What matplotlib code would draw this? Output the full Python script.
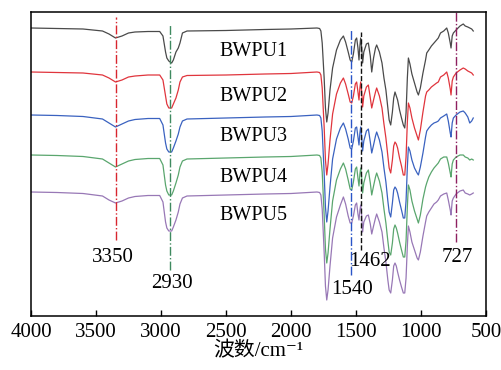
import matplotlib
matplotlib.use("Agg")
import matplotlib.pyplot as plt
import numpy as np

plt.rcParams['font.family'] = ['Liberation Serif', 'Noto Sans CJK SC', 'DejaVu Serif']

# wavenumber keypoints (cm-1)
wavenumber = [4000, 3800, 3600, 3450, 3400, 3350, 3300, 3250, 3200, 3100,
              3010, 2985, 2965, 2955, 2940, 2930, 2918, 2905, 2885, 2867,
              2854, 2835, 2800, 2500, 2200, 2000, 1800, 1780, 1770, 1760,
              1745, 1735, 1725, 1715, 1700, 1680, 1650, 1620, 1597, 1580,
              1560, 1545, 1533, 1520, 1505, 1495, 1485, 1477, 1470, 1464,
              1456, 1449, 1440, 1420, 1405, 1390, 1379, 1365, 1350, 1341,
              1320, 1300, 1285, 1270, 1255, 1245, 1233, 1220, 1210, 1200,
              1190, 1180, 1165, 1150, 1136, 1125, 1115, 1105, 1097, 1085,
              1070, 1050, 1030, 1020, 1005, 985, 965, 956, 940, 920,
              900, 880, 867, 850, 825, 802, 790, 775, 769, 760,
              751, 730, 700, 675, 660, 640, 625, 610, 598]

names = ['BWPU1', 'BWPU2', 'BWPU3', 'BWPU4', 'BWPU5']
colors = ['#4a4a4a', '#e0353d', '#3a62c0', '#5aa66e', '#9878b6']
# stacked baseline level of each trace (a.u.)
baselines = [288, 244, 201, 161, 124]

# absorption depth below each baseline (a.u.)
depth_bwpu1 = [0, 0.5, 1, 3, 6, 10, 8, 5, 4, 3.5,
               3.5, 8, 24, 30, 33, 34, 35, 32, 24, 20,
               15, 5, 3, 2.5, 1.5, 1, 0, 0.5, 3, 15,
               50, 80, 94, 85, 62, 40, 22, 12, 8, 14,
               24, 32, 34, 26, 12, 10, 20, 32, 18, 10,
               20, 35, 24, 16, 15, 28, 44, 30, 20, 17,
               24, 35, 50, 62, 80, 92, 97, 84, 70, 64,
               68, 72, 82, 90, 97, 100, 85, 50, 30, 36,
               46, 55, 64, 67, 60, 45, 32, 25, 22, 18,
               15, 12, 10, 5, 3, 0, 5, 15, 20, 8,
               5, 2, -2, -4, -2, -1, 0, 1, 3]
depth_bwpu2 = [0, 0.5, 1, 3, 6, 10, 8, 5, 4, 3,
               3, 8, 24, 32, 36, 36, 36, 32, 26, 18,
               10, 5, 3.5, 3, 2, 1.5, 0, 0.5, 3, 16,
               55, 88, 103, 92, 68, 42, 22, 11, 6, 12,
               22, 30, 31, 24, 12, 10, 20, 28, 16, 10,
               20, 35, 24, 15, 13, 26, 36, 28, 20, 16,
               24, 36, 52, 66, 84, 96, 101, 88, 74, 70,
               72, 76, 86, 94, 103, 103, 85, 50, 31, 36,
               46, 56, 64, 68, 58, 40, 24, 20, 18, 15,
               13, 11, 10, 5, 3, 0, 6, 17, 23, 9,
               5, 1, -2, -4, -3, -1, 0, 1, 3]
depth_bwpu3 = [0, 0.5, 1.5, 4, 8, 12, 9, 6, 4.5, 3.5,
               3.5, 10, 28, 34, 37, 37, 37, 33, 26, 19,
               12, 6, 4, 3, 2, 1.5, 0, 0.5, 3, 16,
               58, 92, 107, 96, 72, 44, 24, 13, 8, 14,
               24, 33, 34, 26, 13, 12, 22, 30, 18, 12,
               22, 36, 26, 16, 14, 27, 38, 30, 21, 17,
               25, 37, 53, 67, 86, 97, 102, 88, 75, 72,
               74, 78, 87, 95, 103, 103, 86, 52, 32, 36,
               45, 53, 58, 60, 52, 38, 22, 16, 13, 10,
               8, 7, 6, 3, 1, -1, 6, 18, 22, 8,
               3, 0, -3, -4, -2, 2, 8, 6, 3]
depth_bwpu4 = [0, 0.5, 1.5, 4, 8, 12, 9, 6, 4.5, 3.5,
               3.5, 10, 30, 36, 40, 40, 40, 36, 28, 20,
               12, 6, 4, 3, 2, 1.5, 0, 0.5, 3, 17,
               60, 94, 108, 98, 74, 46, 25, 14, 8, 14,
               25, 34, 35, 27, 14, 12, 23, 31, 19, 13,
               23, 38, 28, 18, 15, 28, 40, 31, 22, 18,
               26, 38, 54, 68, 86, 97, 100, 88, 74, 70,
               73, 78, 87, 95, 102, 102, 86, 52, 30, 35,
               46, 56, 64, 68, 60, 44, 32, 28, 22, 17,
               13, 10, 8, 4, 2, 2, 8, 18, 22, 9,
               5, 2, 0, 0, 2, 3, 5, 4, 5]
depth_bwpu5 = [0, 0.5, 1.5, 4, 8, 11, 9, 6, 4.5, 3.5,
               3.5, 10, 30, 36, 39, 39, 39, 35, 28, 20,
               12, 6, 4, 3, 2, 1.5, 0, 0.5, 3, 17,
               60, 94, 108, 98, 74, 46, 25, 13, 5, 12,
               24, 31, 31, 24, 13, 11, 22, 28, 18, 13,
               24, 40, 30, 24, 23, 32, 42, 34, 26, 22,
               30, 40, 56, 70, 88, 98, 101, 88, 74, 71,
               74, 80, 88, 95, 101, 101, 86, 54, 34, 40,
               50, 58, 66, 68, 60, 44, 30, 24, 20, 16,
               12, 10, 8, 4, 2, 1, 8, 18, 23, 9,
               6, 2, -1, -2, 1, 2, 3, 2, 1]
depths = [depth_bwpu1, depth_bwpu2, depth_bwpu3, depth_bwpu4, depth_bwpu5]

# marked bands: position, line extent (a.u.), colour, style, label position
band_pos = [3350, 2930, 1540, 1462, 727]
band_labels = ['3350', '2930', '1540', '1462', '727']
band_top = [299, 291, 286, 284, 304]
band_bottom = [76, 46, 41, 66, 74]
band_colors = ['#d8262f', '#3f8a60', '#2a55c8', '#111111', '#8e2060']
band_styles = ['-.', '-.', '-.', '--', '-.']
label_x = [3370, 2915, 1531, 1392, 723]
label_y = [58, 32, 26, 55, 59]

fig = plt.figure(figsize=(5.02, 3.70), dpi=100)
ax = fig.add_axes([31/502, 54/370, 455/502, 304/370])

wn = np.array(wavenumber)
for name, col, base, d in zip(names, colors, baselines, depths):
    ax.plot(wn, base - np.array(d), color=col, lw=0.9)

for p, t, b, c, s in zip(band_pos, band_top, band_bottom, band_colors, band_styles):
    ax.plot([p, p], [b, t], color=c, ls=s, lw=1.0)

for lab, x, y in zip(band_labels, label_x, label_y):
    ax.text(x, y, lab, fontsize=15, ha='center', va='center')

name_y = [264, 219, 179, 138, 100]
for name, y in zip(names, name_y):
    ax.text(2292, y, name, fontsize=14.5, ha='center', va='center')

ax.set_xlim(4000, 500)
ax.set_ylim(0, 304)
ax.set_xticks([4000, 3500, 3000, 2500, 2000, 1500, 1000, 500])
ax.set_yticks([])
ax.tick_params(axis='x', direction='in', length=4, width=1, labelsize=15, pad=5, top=False)
for sp in ax.spines.values():
    sp.set_linewidth(1.1)
ax.set_xlabel('波数/cm⁻¹', fontsize=15, labelpad=0)

fig.savefig('out.png', dpi=100)
